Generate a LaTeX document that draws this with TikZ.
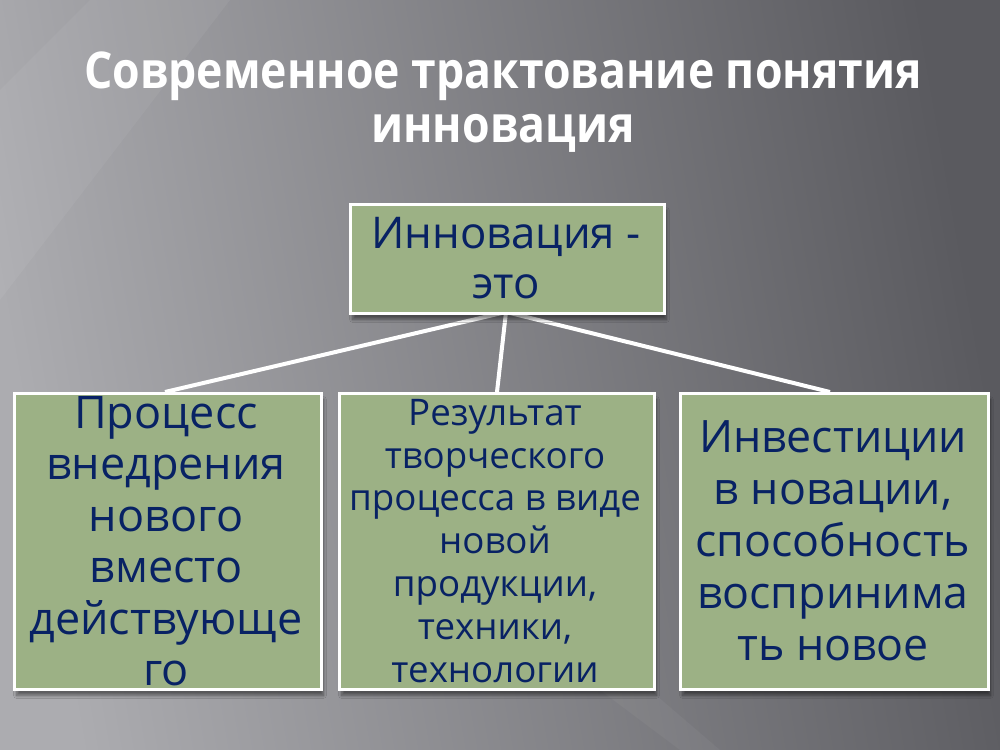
\documentclass[tikz,border=0pt]{standalone}
\usepackage{fontspec}
\setmainfont{Open Sans}
\newfontfamily\titlefont[FakeStretch=0.88]{Open Sans Bold}
\usetikzlibrary{shadows.blur}
\definecolor{bgL}{RGB}{172,172,176}
\definecolor{bgR}{RGB}{90,90,95}
\definecolor{boxfill}{RGB}{156,177,133}
\definecolor{boxtext}{RGB}{8,34,100}
\tikzset{
  card/.style={draw=white, line width=2.25pt, fill=boxfill, inner sep=0pt, anchor=north west,
    blur shadow={shadow xshift=1.5pt, shadow yshift=-4.5pt, shadow blur steps=8, shadow opacity=45}},
  cardtext/.style={text=boxtext, align=center, inner sep=0pt},
  link/.style={draw=white, line width=3pt},
}
\begin{document}
\begin{tikzpicture}[x=0.75pt,y=-0.75pt]
\useasboundingbox (0,0) rectangle (1000,750);
% background
\shade[left color=bgL, right color=bgR, shading angle=100] (0,0) rectangle (1000,750);
\fill[white, opacity=0.05] (0,90) -- (90,0) -- (230,0) -- (0,300) -- cycle;
\fill[white, opacity=0.04] (600,690) -- (650,690) -- (720,750) -- (680,750) -- cycle;
% title
\node[text=white, font=\titlefont\fontsize{38}{40}\selectfont, align=center, inner sep=0pt]
  (title) at (503,102) {Современное трактование понятия\\инновация};
% connectors (drawn first so boxes cover ends)
\coordinate (hub) at (506,312);
\coordinate (lt) at (165,392);
\coordinate (mt) at (497,392);
\coordinate (rt) at (830,392);
\draw[link] (hub) -- (lt);
\draw[link] (hub) -- (mt);
\draw[link] (hub) -- (rt);
% boxes
\node[card, minimum width=235.5pt, minimum height=81.75pt] (top) at (349,203) {};
\node[card, minimum width=230.25pt, minimum height=222pt] (left) at (13,392) {};
\node[card, minimum width=236.25pt, minimum height=222pt] (mid) at (338,392) {};
\node[card, minimum width=231pt, minimum height=222pt] (right) at (679,392) {};
% texts
\node[cardtext, font=\fontsize{32.8}{37.5}\selectfont] (ttop) at (506,258) {Инновация -\\это};
\node[cardtext, font=\fontsize{33.7}{38.6}\selectfont] (tleft) at (166,541) {Процесс\\внедрения\\нового\\вместо\\действующе\\го};
\node[cardtext, font=\fontsize{27.5}{32.2}\selectfont] (tmid) at (495,541) {Результат\\творческого\\процесса в виде\\новой\\продукции,\\техники,\\технологии};
\node[cardtext, font=\fontsize{33.5}{39}\selectfont] (tright) at (833,541) {Инвестиции\\в новации,\\способность\\воспринима\\ть новое};
\end{tikzpicture}
\end{document}
